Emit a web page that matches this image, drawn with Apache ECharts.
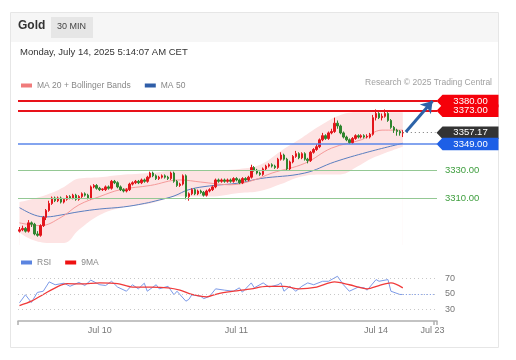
<!DOCTYPE html>
<html><head><meta charset="utf-8">
<script src="https://cdn.jsdelivr.net/npm/echarts@6/dist/echarts.min.js"></script>
<style>html,body{margin:0;padding:0;background:#fff}#c{width:516px;height:360px}</style>
</head><body><div id="c"></div>
<script>
// ---- data (30-min Gold candles, [open, close, low, high]) ----
const candles = [
[3286,3287,3285,3289],[3287,3288,3286,3290],[3288,3286,3285,3289],[3286,3292,3285,3294],[3292,3291,3289,3293],
[3291,3284,3283,3292],[3284,3283,3282,3286],[3283,3290,3282,3291],[3290,3296,3289,3297],[3296,3301,3294,3302],
[3301,3306,3300,3308],[3306,3310,3305,3311],[3310,3308,3307,3311],[3308,3310,3307,3311],[3310,3307,3306,3311],
[3307,3309,3306,3310],[3309,3311,3308,3312],[3311,3310,3309,3312],[3310,3312,3309,3313],[3312,3309,3308,3313],
[3309,3311,3308,3312],[3311,3313,3310,3314],[3313,3312,3311,3314],[3312,3310,3309,3313],[3310,3318,3309,3319],
[3318,3319,3317,3320],[3319,3317,3316,3320],[3317,3316,3315,3318],[3316,3316.5,3315,3317],[3316,3318,3315,3319],
[3318,3317,3316,3319],[3317,3322,3316,3323],[3322,3321,3320,3323],[3321,3318,3317,3322],[3318,3316,3315,3319],
[3316,3315,3314,3317],[3315,3316,3314,3317],[3316,3320,3315,3321],[3320,3321,3319,3322],[3321,3322,3320,3323],
[3322,3321,3320,3323],[3321,3323,3320,3324],[3323,3322,3321,3324],[3322,3325,3321,3326],[3325,3328,3324,3329],
[3328,3326,3325,3329],[3326,3324,3323,3327],[3324,3325,3323,3326],[3325,3326,3324,3327],[3326,3325,3324,3327],
[3325,3324,3323,3326],[3324,3328,3323,3329],[3328,3322,3321,3329],[3322,3319,3318,3323],[3319,3320,3318,3321],
[3320,3326,3319,3327],[3326,3311,3309,3327],[3311,3313,3308,3314],[3313,3316,3312,3317],[3316,3313,3312,3317],
[3313,3315,3312,3316],[3315,3314,3313,3316],[3314,3312,3311,3315],[3312,3315,3311,3316],[3315,3316,3314,3317],
[3316,3318,3315,3319],[3318,3323,3317,3324],[3323,3322,3321,3324],[3322,3323,3321,3324],[3323,3322,3321,3324],
[3322,3323,3321,3324],[3323,3322,3321,3324],[3322,3324,3321,3325],[3324,3323,3322,3325],[3323,3321,3320,3324],
[3321,3324,3320,3325],[3324,3323,3322,3325],[3323,3325,3322,3326],[3325,3332,3324,3334],[3332,3330,3329,3333],
[3330,3328,3327,3331],[3328,3327,3326,3329],[3327,3331,3326,3332],[3331,3333,3330,3334],[3333,3334,3332,3335],
[3334,3333,3332,3335],[3333,3332,3331,3334],[3332,3338,3331,3339],[3338,3341,3337,3343],[3341,3338,3337,3342],
[3338,3331,3330,3339],[3331,3336,3330,3337],[3336,3340,3335,3341],[3340,3342,3339,3344],[3342,3339,3338,3343],
[3339,3342,3338,3343],[3342,3338,3337,3343],[3338,3337,3335,3339],[3337,3343,3336,3344],[3343,3345,3342,3346],
[3345,3347,3344,3349],[3347,3352,3346,3353],[3352,3355,3351,3357],[3355,3353,3352,3356],[3353,3357,3352,3358],
[3357,3358,3356,3360],[3358,3364,3357,3368],[3364,3362,3360,3366],[3362,3357,3356,3363],[3357,3354,3353,3358],
[3354,3352,3351,3355],[3352,3350,3349,3353],[3350,3353,3349,3354],[3353,3355,3352,3356],[3355,3354,3353,3356],
[3354,3355,3353,3356],[3355,3354,3353,3356],[3354,3354.5,3353,3356],[3354,3356,3353,3357],[3356,3368,3355,3370],
[3368,3371,3366,3374],[3371,3368,3367,3372],[3368,3369,3366,3371],[3369,3371,3368,3374],[3371,3366,3365,3372],
[3366,3361,3360,3367],[3361,3359,3357,3362],[3359,3358,3355,3360],[3358,3357,3355,3359],[3357,3357.17,3354,3359]
];
// [candle index, value]
const ma20 = [[0,3292],[7,3290],[14,3296],[20,3305],[27,3311],[34,3316],[44,3319],[54,3323],[61,3321.5],[71,3319.5],[79,3323],[85,3328],[96,3335],[105,3346],[115,3352],[122,3359],[129,3359]];
const ma50 = [[0,3303],[5,3297.7],[9,3296.3],[14,3297.7],[20,3300],[27,3302],[35,3303.5],[42,3306],[47,3308.5],[52,3311.4],[57,3316],[64,3318.7],[74,3320.8],[81,3324],[96,3328],[106,3336],[117,3343],[129,3349.5]];
const bandIdx   = [0,4,10,15,20,27,34,44,54,64,74,81,88,94,101,108,114,119,129];
const bandUpper = [3307,3309,3313,3318,3324,3325,3326.6,3328,3330,3330,3331,3334,3344,3352,3362,3370,3372,3372,3372];
const bandLower = [3285,3280,3277.5,3277.5,3287,3297.7,3302.8,3306,3311,3311,3313.6,3315,3320,3325,3327,3327,3333,3339,3347];
const rsi = [[0,38.6],[2,49],[4,39],[6,52],[8,53.6],[10,65.7],[12,62],[15,64],[17,60],[20,65],[22,61],[24,68],[27,62],[29,61],[31,66.5],[33,59],[36,53.6],[38,62],[40,56.7],[42,64],[43,53.6],[46,62],[47,56.7],[50,60],[52,49],[53,53.6],[56,40.7],[57,43],[58,49],[61,47],[62,44],[64,47],[66,56.7],[69,55],[72,53.6],[74,58],[75,52.3],[78,64.4],[79,58],[82,64.4],[84,59],[87,62],[88,64.4],[89,53.6],[91,60],[93,53.6],[95,60],[97,64.4],[99,62],[102,66.5],[104,66.5],[107,73],[109,62],[111,53.6],[114,59],[116,58],[117,55],[120,68.7],[121,66.5],[124,68.7],[125,53.6],[128,49.4],[129,49.4]];
const rsiMA = [[0,35],[4,40.7],[8,49.4],[13,60],[16,63.5],[21,63],[27,64.4],[33,63.5],[38,59],[44,59],[50,58],[54,55],[58,49.4],[63,46.4],[67,50.6],[72,53.6],[78,56.7],[83,60],[89,60],[94,56.7],[100,59],[106,65.7],[111,62],[117,56.7],[121,61],[125,64.4],[129,58]];
const resistance = [3380, 3373];
const lastPrice = 3357.17;
const pivot = 3349;
const supports = [3330, 3310];
const rsiLast = 49.4;
const dayLabels = ['Jul 10','Jul 11','Jul 14','Jul 23'];
const dayLabelIdx = [27, 73, 120, 139];
const slotCount = 141;

// ---- build ----
const cats = Array.from({length: slotCount}, () => '');
dayLabelIdx.forEach((k, j) => { cats[k] = dayLabels[j]; });
const lastIdx = candles.length - 1;
const FONT = 'Liberation Sans, Arial, sans-serif';
const boxPath = 'path://M0,6 L6,0 L62,0 L62,12 L6,12 Z';
const box = (v, color) => ({coord: [slotCount - 1, v], value: v, itemStyle: {color}});

const chart = echarts.init(document.getElementById('c'), null, {renderer: 'canvas'});
chart.setOption({
  animation: false,
  textStyle: {fontFamily: FONT},
  graphic: [
    {type: 'rect', shape: {x: 10.5, y: 12.5, width: 488, height: 335}, style: {fill: '#fff', stroke: '#e6e6e6', lineWidth: 1}, z: -10},
    {type: 'rect', shape: {x: 11, y: 13, width: 487, height: 29}, style: {fill: '#f6f6f6'}, z: -9},
    {type: 'rect', shape: {x: 51, y: 17, width: 42, height: 21}, style: {fill: '#e6e6e6'}, z: -8},
    {type: 'text', left: 18, top: 20, style: {text: 'Gold', font: 'bold 12px ' + FONT, fill: '#333'}},
    {type: 'text', left: 57, top: 22, style: {text: '30 MIN', font: '9px ' + FONT, fill: '#444'}},
    {type: 'text', left: 20, top: 47, style: {text: 'Monday, July 14, 2025 5:14:07 AM CET', font: '9.5px ' + FONT, fill: '#333'}},
    {type: 'text', right: 24, top: 78, style: {text: 'Research \u00a9 2025 Trading Central', font: '8.5px ' + FONT, fill: '#a0a0a0'}}
  ],
  legend: [
    {left: 16, top: 76, itemWidth: 11, itemHeight: 4, itemGap: 14, icon: 'rect',
     textStyle: {fontSize: 8.5, color: '#888', fontFamily: FONT},
     data: [{name: 'MA 20 + Bollinger Bands', itemStyle: {color: '#f07b7b'}}, {name: 'MA 50', itemStyle: {color: '#2f5ea8'}}]},
    {left: 16, top: 253, itemWidth: 11, itemHeight: 4, itemGap: 14, icon: 'rect',
     textStyle: {fontSize: 8.5, color: '#888', fontFamily: FONT},
     data: [{name: 'RSI', itemStyle: {color: '#5b84e0'}}, {name: '9MA', itemStyle: {color: '#ee1111'}}]}
  ],
  grid: [
    {left: 18, right: 79, top: 90, height: 155},
    {left: 18, right: 79, top: 267, height: 54}
  ],
  xAxis: [
    {type: 'category', gridIndex: 0, data: cats, boundaryGap: true, show: false},
    {type: 'category', gridIndex: 1, data: cats, boundaryGap: true,
     axisLine: {show: true, lineStyle: {color: '#b0b0b0', width: 1.5}},
     axisTick: {show: true, length: 4, inside: false, interval: (i) => i === 0 || i === slotCount - 1, lineStyle: {color: '#b0b0b0', width: 1.5}},
     axisLabel: {interval: (i, v) => v !== '', color: '#777', fontSize: 9, margin: 5, fontFamily: FONT},
     splitLine: {show: false}}
  ],
  yAxis: [
    {type: 'value', gridIndex: 0, min: 3276, max: 3388, show: false, splitLine: {show: false}},
    {type: 'value', gridIndex: 1, min: 15, max: 85, interval: 5, position: 'right',
     axisLine: {show: false}, axisTick: {show: false}, splitLine: {show: false},
     axisLabel: {color: '#777', fontSize: 9, margin: 8, fontFamily: FONT,
       formatter: (v) => (v === 30 || v === 50 || v === 70) ? String(v) : ''}}
  ],
  series: [
    {name: 'bandUpper', type: 'line', xAxisIndex: 0, yAxisIndex: 0, z: 1, smooth: 0.4, symbol: 'none', silent: true,
     data: bandIdx.map((k, j) => [k, bandUpper[j]]), lineStyle: {width: 0},
     areaStyle: {color: '#fde3e3', opacity: 1, origin: 'start'}},
    {name: 'bandLower', type: 'line', xAxisIndex: 0, yAxisIndex: 0, z: 1, smooth: 0.4, symbol: 'none', silent: true,
     data: bandIdx.map((k, j) => [k, bandLower[j]]), lineStyle: {width: 0},
     areaStyle: {color: '#ffffff', opacity: 1, origin: 'start'}},
    {name: 'MA 50', type: 'line', xAxisIndex: 0, yAxisIndex: 0, z: 2, smooth: 0.4, symbol: 'none',
     data: ma50, lineStyle: {color: '#5b7fc0', width: 1}},
    {name: 'MA 20 + Bollinger Bands', type: 'line', xAxisIndex: 0, yAxisIndex: 0, z: 2, smooth: 0.4, symbol: 'none',
     data: ma20, lineStyle: {color: '#f59a9a', width: 1}},
    {name: 'Gold', type: 'candlestick', xAxisIndex: 0, yAxisIndex: 0, z: 3, clip: false, barWidth: 2,
     data: candles,
     itemStyle: {color: '#e3161c', color0: '#2f852f', borderColor: '#e3161c', borderColor0: '#2f852f', borderWidth: 1},
     markLine: {silent: true, symbol: ['none', 'none'], animation: false, label: {show: false},
       data: [
         {yAxis: resistance[0], lineStyle: {color: '#e8121a', width: 2, type: 'solid'}},
         {yAxis: resistance[1], lineStyle: {color: '#e8121a', width: 2, type: 'solid'}},
         {yAxis: pivot, lineStyle: {color: '#5a86ea', width: 1.5, type: 'solid'}},
         {yAxis: supports[0], lineStyle: {color: '#94c894', width: 1, type: 'solid'},
          label: {show: true, position: 'end', distance: 8, color: '#3e9e3e', fontSize: 9.5, formatter: supports[0].toFixed(2)}},
         {yAxis: supports[1], lineStyle: {color: '#94c894', width: 1, type: 'solid'},
          label: {show: true, position: 'end', distance: 8, color: '#3e9e3e', fontSize: 9.5, formatter: supports[1].toFixed(2)}},
         [{coord: [lastIdx, lastPrice], lineStyle: {color: '#777', width: 1, type: [1, 3]}}, {coord: [slotCount - 1, lastPrice]}]
       ]},
     markPoint: {silent: true, symbol: boxPath, symbolSize: [62, 12.5], symbolOffset: [32, 0], animation: false,
       label: {show: true, position: 'inside', color: '#fff', fontSize: 9.5, offset: [3, 0], fontFamily: FONT,
               formatter: (p) => Number(p.value).toFixed(2)},
       data: [box(resistance[0], '#f5000a'), box(resistance[1], '#f5000a'), box(lastPrice, '#333333'), box(pivot, '#1d5fe6')]}
    },
    {name: 'arrow', type: 'line', xAxisIndex: 0, yAxisIndex: 0, z: 4, data: [], silent: true,
     markLine: {silent: true, symbol: ['none', 'arrow'], symbolSize: [11, 11], animation: false, label: {show: false},
       data: [[{coord: [lastIdx + 1, lastPrice + 0.5], lineStyle: {color: '#2d63a8', width: 3, type: 'solid'}}, {coord: [slotCount - 2, resistance[0]]}]]}},
    {name: 'RSI', type: 'line', xAxisIndex: 1, yAxisIndex: 1, z: 2, symbol: 'none',
     data: rsi, lineStyle: {color: '#7c9ae8', width: 1},
     markLine: {silent: true, symbol: ['none', 'none'], animation: false, label: {show: false},
       data: [
         {yAxis: 70, lineStyle: {color: '#c8c8c8', width: 1, type: [1, 3]}},
         {yAxis: 50, lineStyle: {color: '#c8c8c8', width: 1, type: [1, 3]}},
         {yAxis: 30, lineStyle: {color: '#c8c8c8', width: 1, type: [1, 3]}},
         [{coord: [lastIdx, rsiLast], lineStyle: {color: '#7c9ae8', width: 1, type: [1, 2]}}, {coord: [slotCount - 1, rsiLast]}]
       ]}},
    {name: '9MA', type: 'line', xAxisIndex: 1, yAxisIndex: 1, z: 3, symbol: 'none', smooth: 0.3,
     data: rsiMA, lineStyle: {color: '#f03a3a', width: 1.3}}
  ]
});
</script>
</body></html>
